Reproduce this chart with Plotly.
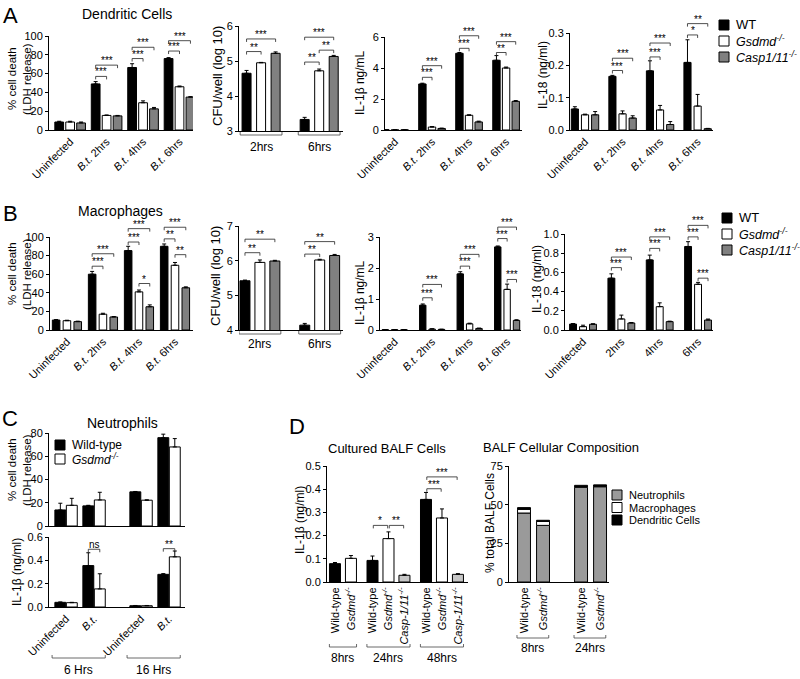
import plotly.graph_objects as go

W, H = 800, 679
FONT = "Liberation Sans, Arial, Helvetica, sans-serif"
BLK, WHT, GRY, LGRY, NGRY = "#000000", "#ffffff", "#808080", "#c6c6c6", "#9a9a9a"

# ===================== DATA =====================
A_CATS = ["Uninfected", "<i>B.t.</i> 2hrs", "<i>B.t.</i> 4hrs", "<i>B.t.</i> 6hrs"]
B_LDH_CATS = ["Uninfected", "<i>B.t.</i> 2hrs", "<i>B.t.</i> 4hrs", "<i>B.t.</i> 6hrs"]
B_IL18_CATS = ["Uninfected", "2hrs", "4hrs", "6hrs"]
CFU_GROUPS = ["2hrs", "6hrs"]

# A: Dendritic cells
A1_WT, A1_WT_E = [8.5, 49, 66.5, 76], [0.8, 2.5, 4, 1]
A1_GS, A1_GS_E = [8.5, 15.5, 29, 46], [0.8, 0.5, 2, 0.8]
A1_CA, A1_CA_E = [7.5, 15, 22.5, 35], [1, 0.5, 1.5, 0.5]
A1_SIG = [(1, 0, 1, 57, "***"), (1, 0, 2, 69, "***"), (2, 0, 1, 76, "***"),
          (2, 0, 2, 88, "***"), (3, 0, 1, 84, "***"), (3, 0, 2, 95, "***")]

A2_WT, A2_WT_E = [4.65, 3.33], [0.08, 0.06]
A2_GS, A2_GS_E = [4.95, 4.72], [0.01, 0.05]
A2_CA, A2_CA_E = [5.22, 5.13], [0.04, 0.03]
A2_SIG = [(0, 0, 1, 5.27, "**"), (0, 0, 2, 5.63, "***"), (1, 0, 1, 4.97, "**"),
          (1, 0, 2, 5.68, "***"), (1, 1, 2, 5.31, "**")]

A3_WT, A3_WT_E = [0.02, 2.97, 4.95, 4.5], [0, 0.05, 0.05, 0.3]
A3_GS, A3_GS_E = [0.01, 0.19, 0.95, 4.0], [0, 0.03, 0.03, 0.06]
A3_CA, A3_CA_E = [0.01, 0.1, 0.52, 1.85], [0, 0.02, 0.05, 0.05]
A3_SIG = [(1, 0, 1, 3.4, "***"), (1, 0, 2, 4.15, "***"), (2, 0, 1, 5.27, "***"),
          (2, 0, 2, 6.08, "***"), (3, 0, 1, 5.0, "**"), (3, 0, 2, 5.7, "***")]

A4_WT, A4_WT_E = [0.065, 0.166, 0.183, 0.209], [0.007, 0.003, 0.031, 0.07]
A4_GS, A4_GS_E = [0.047, 0.05, 0.062, 0.074], [0.002, 0.009, 0.014, 0.036]
A4_CA, A4_CA_E = [0.047, 0.037, 0.017, 0.004], [0.01, 0.007, 0.009, 0.001]
A4_SIG = [(1, 0, 1, 0.184, "***"), (1, 0, 2, 0.222, "***"), (2, 0, 1, 0.226, "***"),
          (2, 0, 2, 0.269, "***"), (3, 0, 1, 0.294, "*"), (3, 0, 2, 0.329, "**")]

# B: Macrophages
B1_WT, B1_WT_E = [10.7, 60, 85.4, 90], [0.5, 3, 4.6, 2.5]
B1_GS, B1_GS_E = [10, 17, 41, 69.6], [0.5, 1, 2, 3]
B1_CA, B1_CA_E = [9, 14, 25, 45.4], [0.5, 0.5, 2, 1]
B1_SIG = [(1, 0, 1, 68.6, "***"), (1, 0, 2, 82, "***"), (2, 0, 1, 94.6, "***"),
          (2, 0, 2, 109, "***"), (2, 1, 2, 50, "*"), (3, 0, 1, 98, "**"),
          (3, 0, 2, 110.5, "***"), (3, 1, 2, 81, "**")]

B2_WT, B2_WT_E = [5.42, 4.14], [0.02, 0.05]
B2_GS, B2_GS_E = [5.95, 6.02], [0.07, 0.02]
B2_CA, B2_CA_E = [5.99, 6.15], [0.02, 0.03]
B2_SIG = [(0, 0, 1, 6.23, "**"), (0, 0, 2, 6.62, "**"), (1, 0, 1, 6.19, "**"),
          (1, 0, 2, 6.55, "**")]

B3_WT, B3_WT_E = [0.01, 0.80, 1.81, 2.68], [0, 0.04, 0.07, 0.03]
B3_GS, B3_GS_E = [0.01, 0.03, 0.2, 1.31], [0, 0.01, 0.02, 0.17]
B3_CA, B3_CA_E = [0.01, 0.02, 0.05, 0.31], [0, 0.005, 0.01, 0.02]
B3_SIG = [(1, 0, 1, 1.04, "***"), (1, 0, 2, 1.47, "***"), (2, 0, 1, 2.06, "***"),
          (2, 0, 2, 2.44, "***"), (3, 0, 1, 2.95, "***"), (3, 0, 2, 3.32, "***"),
          (3, 1, 2, 1.63, "***")]

B4_WT, B4_WT_E = [0.062, 0.54, 0.73, 0.87], [0.005, 0.045, 0.05, 0.05]
B4_GS, B4_GS_E = [0.035, 0.115, 0.243, 0.476], [0.015, 0.04, 0.04, 0.02]
B4_CA, B4_CA_E = [0.06, 0.073, 0.087, 0.104], [0.005, 0.005, 0.005, 0.01]
B4_SIG = [(1, 0, 1, 0.65, "***"), (1, 0, 2, 0.76, "***"), (2, 0, 1, 0.85, "***"),
          (2, 0, 2, 0.97, "***"), (3, 0, 1, 0.97, "***"), (3, 0, 2, 1.09, "***"),
          (3, 1, 2, 0.54, "***")]

# C: Neutrophils
C_CATS = ["Uninfected", "<i>B.t.</i>", "Uninfected", "<i>B.t.</i>"]
C_GROUPS = ["6 Hrs", "16 Hrs"]
C1_WT, C1_WT_E = [13.8, 17.3, 29.4, 76], [5.8, 0.5, 0.3, 3]
C1_GS, C1_GS_E = [17.8, 22.4, 22.2, 68], [6, 6.6, 0.3, 7.2]
C2_WT, C2_WT_E = [0.04, 0.355, 0.011, 0.28], [0.003, 0.11, 0.002, 0.006]
C2_GS, C2_GS_E = [0.037, 0.155, 0.011, 0.43], [0.003, 0.13, 0.002, 0.05]
C2_SIG = [(1, 0, 1, 0.495, "ns"), (3, 0, 1, 0.50, "**")]

# D: BALF cells
D1_GROUPS = ["8hrs", "24hrs", "48hrs"]
D1_LABELS = [["Wild-type", "<i>Gsdmd<sup>-/-</sup></i>"],
             ["Wild-type", "<i>Gsdmd<sup>-/-</sup></i>", "<i>Casp-1/11<sup>-/-</sup></i>"],
             ["Wild-type", "<i>Gsdmd<sup>-/-</sup></i>", "<i>Casp-1/11<sup>-/-</sup></i>"]]
D1_WT, D1_WT_E = [0.079, 0.093, 0.356], [0.005, 0.019, 0.03]
D1_GS, D1_GS_E = [0.102, 0.187, 0.276], [0.012, 0.029, 0.039]
D1_CA, D1_CA_E = [0.029, 0.033], [0.004, 0.003]
D1_SIG = [((1, 0), (1, 1), 0.244, "*"), ((1, 1), (1, 2), 0.244, "**"),
          ((2, 0), (2, 1), 0.402, "***"), ((2, 0), (2, 2), 0.453, "***")]

D2_GROUPS = ["8hrs", "24hrs"]
D2_LABELS = ["Wild-type", "<i>Gsdmd<sup>-/-</sup></i>", "Wild-type", "<i>Gsdmd<sup>-/-</sup></i>"]
D2_NEUT = [44.6, 36.6, 61.2, 61.6]
D2_MAC = [2.4, 2.6, 0.5, 0.4]
D2_DC = [1.1, 0.7, 0.8, 0.8]

# ===================== LAYOUT HELPERS =====================
fig = go.Figure()
layout = {}
shapes = []
annots = []
AX = {}


def xname(n):
    return "x" if n == 1 else f"x{n}"


def yname(n):
    return "y" if n == 1 else f"y{n}"


def tfont(size=11):
    return dict(size=size, family=FONT, color="black")


def add_axes(n, box, xr, yr, dtick, fmt="", tickvals=None, ticktext=None, tickangle=-45):
    x0, x1, yt, yb = box
    xa = dict(domain=[x0 / W, x1 / W], range=list(xr), anchor=yname(n), showline=True,
              linecolor="black", linewidth=1, ticks="", showgrid=False, zeroline=False,
              tickfont=tfont(11), fixedrange=True, automargin=False)
    if tickvals is not None:
        xa.update(tickmode="array", tickvals=tickvals, ticktext=ticktext, tickangle=tickangle)
    else:
        xa.update(showticklabels=False)
    ydom = [1 - yb / H, 1 - yt / H]
    ya = dict(domain=ydom, range=list(yr), anchor=xname(n), showline=True, linecolor="black",
              linewidth=1, ticks="outside", ticklen=3, tickwidth=1, tickcolor="black",
              tick0=yr[0], dtick=dtick, tickformat=fmt, showgrid=False, zeroline=False,
              tickfont=tfont(11), fixedrange=True, automargin=False)
    layout["xaxis" if n == 1 else f"xaxis{n}"] = xa
    layout["yaxis" if n == 1 else f"yaxis{n}"] = ya
    AX[n] = dict(ydom=ydom, yr=yr)


def ypaper(n, v):
    d0, d1 = AX[n]["ydom"]
    r0, r1 = AX[n]["yr"]
    return d0 + (v - r0) / (r1 - r0) * (d1 - d0)


def add_bars(n, xs, ys, errs, color, offset, width, base=None, err=True):
    kw = {}
    if err:
        kw["error_y"] = dict(type="data", symmetric=False, array=errs, arrayminus=[0] * len(errs),
                             color="black", thickness=1, width=2)
    if base is not None:
        kw["base"] = base
    fig.add_trace(go.Bar(x=xs, y=ys, offset=offset, width=width, xaxis=xname(n), yaxis=yname(n),
                         marker=dict(color=color, line=dict(color="black", width=1)),
                         showlegend=False, hoverinfo="skip", **kw))


def sig(n, xa, xb, yv, text, drop=3, size=10):
    yp = ypaper(n, yv)
    d = drop / H
    shapes.append(dict(type="path", xref=xname(n), yref="paper",
                       path=f"M {xa},{yp - d} L {xa},{yp} L {xb},{yp} L {xb},{yp - d}",
                       line=dict(color="#222222", width=0.8)))
    annots.append(dict(xref=xname(n), yref="paper", x=(xa + xb) / 2, y=yp, text=text,
                       showarrow=False, yanchor="bottom", yshift=-3, font=tfont(size)))


def group_bracket(n, xa, xb, ypx, text, label_ypx, up=3, size=12):
    y = 1 - ypx / H
    d = up / H
    shapes.append(dict(type="path", xref=xname(n), yref="paper",
                       path=f"M {xa},{y + d} L {xa},{y} L {xb},{y} L {xb},{y + d}",
                       line=dict(color="#444444", width=0.8)))
    annots.append(dict(xref=xname(n), yref="paper", x=(xa + xb) / 2, y=1 - label_ypx / H,
                       text=text, showarrow=False, yanchor="middle", font=tfont(size)))


def text_px(xpx, ypx, text, size, angle=0, xanchor="center", yanchor="middle"):
    annots.append(dict(xref="paper", yref="paper", x=xpx / W, y=1 - ypx / H, text=text,
                       showarrow=False, textangle=angle, xanchor=xanchor, yanchor=yanchor,
                       font=tfont(size)))


def legend_item(xpx, ypx, color, text, size=12, sq=10):
    shapes.append(dict(type="rect", xref="paper", yref="paper", x0=xpx / W, x1=(xpx + sq) / W,
                       y0=1 - (ypx + sq / 2) / H, y1=1 - (ypx - sq / 2) / H,
                       fillcolor=color, line=dict(color="black", width=1)))
    text_px(xpx + sq + 5, ypx, text, size, xanchor="left")


def ldh_title(ycenter):
    text_px(12, ycenter, "% cell death", 11.5, angle=-90)
    text_px(27, ycenter, "(LDH release)", 11.5, angle=-90)


def grouped(n, series, pitch, width, brackets):
    k = len(series)
    xs = list(range(len(series[0][0])))
    for i, (vals, errs, color) in enumerate(series):
        c = (i - (k - 1) / 2) * pitch
        add_bars(n, xs, vals, errs, color, c - width / 2, width)
    for g, i, j, yv, lab in brackets:
        sig(n, g + (i - (k - 1) / 2) * pitch, g + (j - (k - 1) / 2) * pitch, yv, lab)
    return xs


# ===================== PANEL A =====================
add_axes(1, (49, 193, 36, 130), (-0.58, 3.37), (0, 100), 20,
         tickvals=list(range(len(A_CATS))), ticktext=A_CATS)
grouped(1, [(A1_WT, A1_WT_E, BLK), (A1_GS, A1_GS_E, WHT), (A1_CA, A1_CA_E, GRY)], 0.3, 0.24, A1_SIG)

add_axes(2, (239, 343, 26, 131), (-0.38, 1.41), (3, 6), 1)
xs = grouped(2, [(A2_WT, A2_WT_E, BLK), (A2_GS, A2_GS_E, WHT), (A2_CA, A2_CA_E, GRY)], 0.25, 0.155, A2_SIG)
for g, lab in zip(xs, CFU_GROUPS):
    group_bracket(2, g - 0.36, g + 0.36, 135, lab, 147)

add_axes(3, (385, 522, 37, 130), (-0.27, 3.43), (0, 6), 2,
         tickvals=list(range(len(A_CATS))), ticktext=A_CATS)
grouped(3, [(A3_WT, A3_WT_E, BLK), (A3_GS, A3_GS_E, WHT), (A3_CA, A3_CA_E, GRY)], 0.26, 0.2, A3_SIG)

add_axes(4, (570, 713, 33, 130), (-0.4, 3.41), (0, 0.3), 0.1, fmt=".1f",
         tickvals=list(range(len(A_CATS))), ticktext=A_CATS)
grouped(4, [(A4_WT, A4_WT_E, BLK), (A4_GS, A4_GS_E, WHT), (A4_CA, A4_CA_E, GRY)], 0.27, 0.19, A4_SIG)

text_px(10, 15, "A", 22)
text_px(127, 14, "Dendritic Cells", 14)
ldh_title(79)
text_px(217, 76, "CFU/well (log 10)", 13, angle=-90)
text_px(360, 83, "IL-1β ng/mL", 12, angle=-90)
text_px(543, 75, "IL-18 (ng/ml)", 12, angle=-90)
legend_item(719, 25, BLK, "WT", size=13)
legend_item(719, 41, WHT, "<i>Gsdmd<sup>-/-</sup></i>", size=12.5)
legend_item(719, 57, GRY, "<i>Casp1/11<sup>-/-</sup></i>", size=12.5)

# ===================== PANEL B =====================
add_axes(5, (50, 193, 237, 330), (-0.47, 3.5), (0, 100), 20,
         tickvals=list(range(len(B_LDH_CATS))), ticktext=B_LDH_CATS)
grouped(5, [(B1_WT, B1_WT_E, BLK), (B1_GS, B1_GS_E, WHT), (B1_CA, B1_CA_E, GRY)], 0.3, 0.21, B1_SIG)

add_axes(6, (239, 343, 226, 330), (-0.35, 1.39), (4, 7), 1)
xs = grouped(6, [(B2_WT, B2_WT_E, BLK), (B2_GS, B2_GS_E, WHT), (B2_CA, B2_CA_E, GRY)], 0.25, 0.167, B2_SIG)
for g, lab in zip(xs, CFU_GROUPS):
    group_bracket(6, g - 0.35, g + 0.35, 334, lab, 344)

add_axes(7, (380, 521, 237, 330), (-0.39, 3.37), (0, 3), 1,
         tickvals=list(range(len(B_LDH_CATS))), ticktext=B_LDH_CATS)
grouped(7, [(B3_WT, B3_WT_E, BLK), (B3_GS, B3_GS_E, WHT), (B3_CA, B3_CA_E, GRY)], 0.25, 0.17, B3_SIG)

add_axes(8, (565, 713, 234, 330), (-0.47, 3.39), (0, 1), 0.2, fmt=".1f",
         tickvals=list(range(len(B_IL18_CATS))), ticktext=B_IL18_CATS)
grouped(8, [(B4_WT, B4_WT_E, BLK), (B4_GS, B4_GS_E, WHT), (B4_CA, B4_CA_E, GRY)], 0.26, 0.18, B4_SIG)

text_px(10, 213, "B", 22)
text_px(120, 211, "Macrophages", 14)
ldh_title(274)
text_px(215, 276, "CFU/well (log 10)", 13, angle=-90)
text_px(360, 293, "IL-1β ng/mL", 12, angle=-90)
text_px(537, 279, "IL-18 (ng/ml)", 12, angle=-90)
legend_item(722, 218, BLK, "WT", size=13)
legend_item(722, 234, WHT, "<i>Gsdmd<sup>-/-</sup></i>", size=12.5)
legend_item(722, 250, GRY, "<i>Casp1/11<sup>-/-</sup></i>", size=12.5)

# ===================== PANEL C =====================
C_GAP = 1.68  # spacing between the 6 Hrs and 16 Hrs groups
C_POS = [i + (C_GAP - 1 if i >= 2 else 0) for i in range(len(C_CATS))]
C_XR = (-0.61, 4.25)
add_axes(9, (49, 185, 433, 526), C_XR, (0, 80), 20)
add_axes(10, (49, 185, 537, 607), C_XR, (0, 0.6), 0.2, fmt=".1f", tickvals=C_POS, ticktext=C_CATS)
C_PITCH, C_W = 0.41, 0.39
for n, wt, wte, gs, gse in [(9, C1_WT, C1_WT_E, C1_GS, C1_GS_E), (10, C2_WT, C2_WT_E, C2_GS, C2_GS_E)]:
    add_bars(n, C_POS, wt, wte, BLK, -C_PITCH / 2 - C_W / 2, C_W)
    add_bars(n, C_POS, gs, gse, WHT, C_PITCH / 2 - C_W / 2, C_W)
for g, i, j, yv, lab in C2_SIG:
    sig(10, C_POS[g] + (i - 0.5) * C_PITCH, C_POS[g] + (j - 0.5) * C_PITCH, yv, lab)
for gi, lab in enumerate(C_GROUPS):
    a, b = C_POS[2 * gi], C_POS[2 * gi + 1]
    group_bracket(10, a - 0.5, b + 0.4, 658, lab, 670)

text_px(10, 418, "C", 22)
text_px(122, 423, "Neutrophils", 14)
ldh_title(470)
text_px(17, 572, "IL-1β (ng/ml)", 12, angle=-90)
legend_item(55, 445, BLK, "Wild-type", size=12)
legend_item(55, 459, WHT, "<i>Gsdmd<sup>-/-</sup></i>", size=12)

# ===================== PANEL D =====================
D1_STARTS = [0, 2.35, 5.7]
D1_POS = [[s + k for k in range(len(lbls))] for s, lbls in zip(D1_STARTS, D1_LABELS)]
D1_TV = [p for grp in D1_POS for p in grp]
D1_TT = [t for grp in D1_LABELS for t in grp]
add_axes(11, (327, 468, 466, 582), (-0.5, 8.33), (0, 0.5), 0.1, fmt=".1f",
         tickvals=D1_TV, ticktext=D1_TT, tickangle=-90)
D1_W = 0.69
add_bars(11, [g[0] for g in D1_POS], D1_WT, D1_WT_E, BLK, -D1_W / 2, D1_W)
add_bars(11, [g[1] for g in D1_POS], D1_GS, D1_GS_E, WHT, -D1_W / 2, D1_W)
add_bars(11, [g[2] for g in D1_POS if len(g) > 2], D1_CA, D1_CA_E, LGRY, -D1_W / 2, D1_W)
for (ga, ia), (gb, ib), yv, lab in D1_SIG:
    sig(11, D1_POS[ga][ia] + 0.05, D1_POS[gb][ib] - 0.05, yv, lab)
for grp, lab in zip(D1_POS, D1_GROUPS):
    group_bracket(11, grp[0] - 0.35, grp[-1] + 0.35, 647, lab, 658)

D2_STARTS = [0, 3]
D2_POS = [s + k for s in D2_STARTS for k in range(2)]
add_axes(12, (509, 609, 466, 582), (-0.79, 4.47), (0, 75), 25,
         tickvals=D2_POS, ticktext=D2_LABELS, tickangle=-90)
D2_W = 0.68
base_mac = [a for a in D2_NEUT]
base_dc = [a + b for a, b in zip(D2_NEUT, D2_MAC)]
add_bars(12, D2_POS, D2_NEUT, None, NGRY, -D2_W / 2, D2_W, err=False)
add_bars(12, D2_POS, D2_MAC, None, WHT, -D2_W / 2, D2_W, base=base_mac, err=False)
add_bars(12, D2_POS, D2_DC, None, BLK, -D2_W / 2, D2_W, base=base_dc, err=False)
for s, lab in zip(D2_STARTS, D2_GROUPS):
    group_bracket(12, s - 0.37, s + 1.3, 638, lab, 648)

text_px(297, 426, "D", 22)
text_px(387, 448, "Cultured BALF Cells", 13)
text_px(561, 447, "BALF Cellular Composition", 13)
text_px(300, 520, "IL-1β (ng/ml)", 12, angle=-90)
text_px(490, 523, "% total BALF Cells", 12, angle=-90)
legend_item(612, 495, NGRY, "Neutrophils", size=11)
legend_item(612, 507.5, WHT, "Macrophages", size=11)
legend_item(612, 520, BLK, "Dendritic Cells", size=11)

fig.update_layout(width=W, height=H,
                  margin=dict(l=0, r=0, t=0, b=0, pad=0, autoexpand=False),
                  paper_bgcolor="white", plot_bgcolor="white", barmode="overlay",
                  showlegend=False, font=dict(family=FONT, color="black"),
                  shapes=shapes, annotations=annots, **layout)
fig.write_html("out.html", config={"displayModeBar": False, "staticPlot": True},
               post_script="document.body.style.margin='0px';"
                           "document.documentElement.style.overflow='hidden';")
